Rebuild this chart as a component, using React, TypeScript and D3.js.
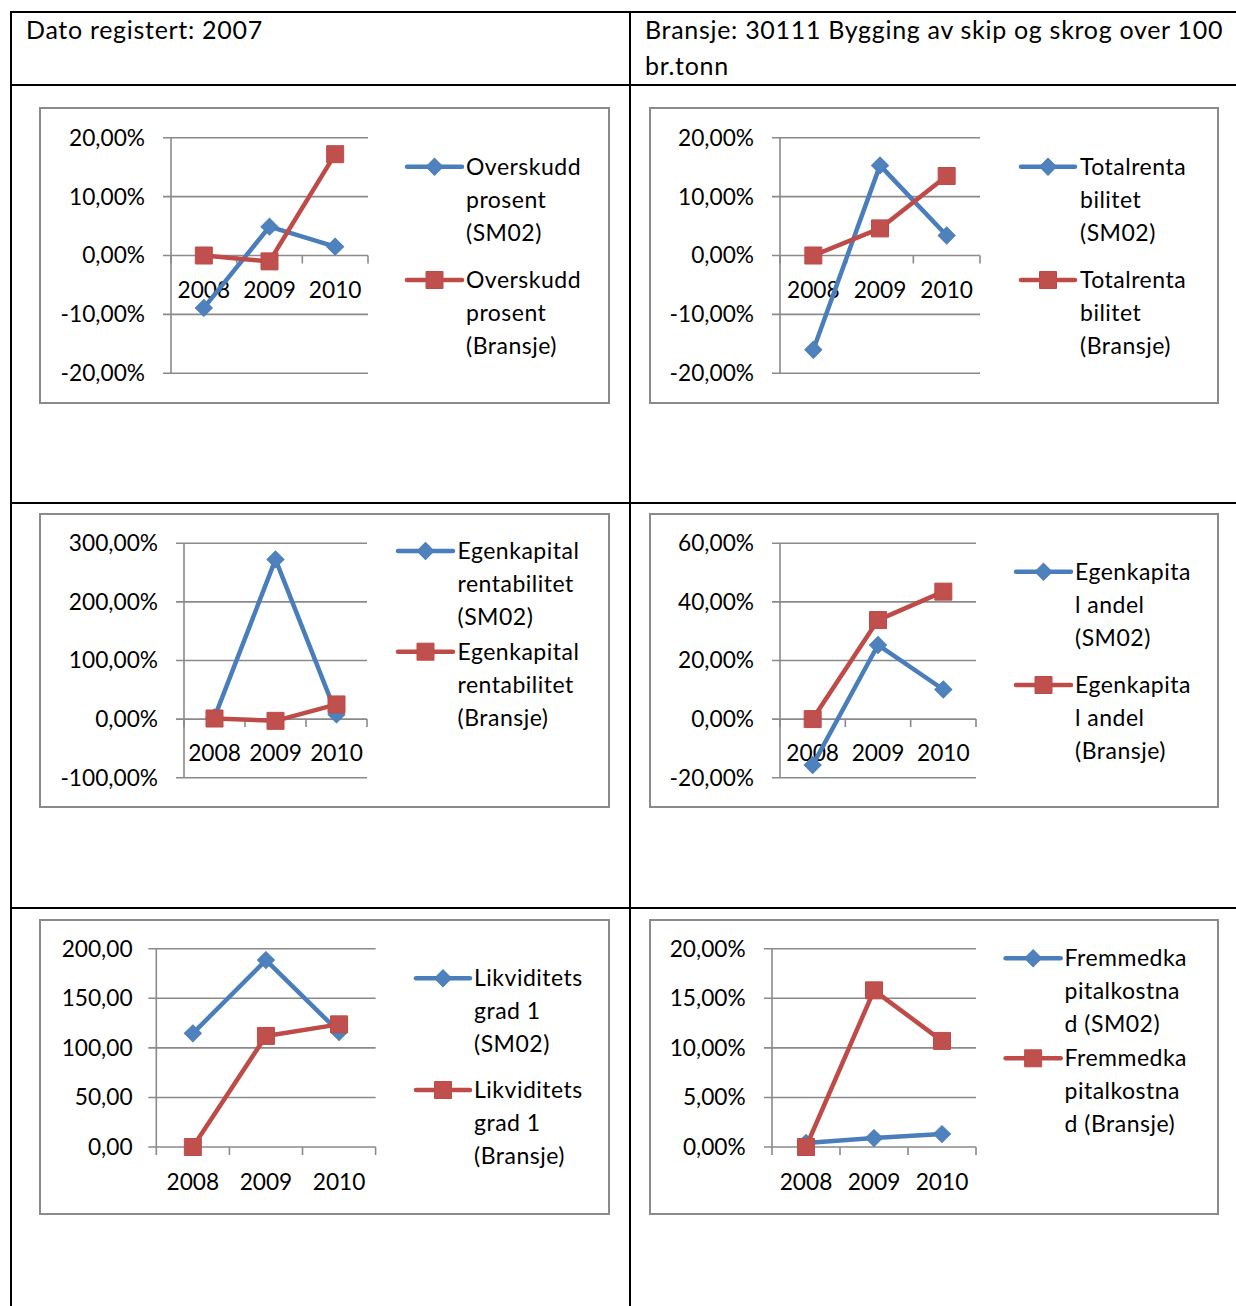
import * as d3 from 'd3';

// kategorier
const years = ['2008', '2009', '2010'];

// verdier lest av figuren
const overskuddSM02 = [-8.9, 4.9, 1.5];
const overskuddBransje = [0.0, -1.0, 17.2];
const totalrentSM02 = [-16.0, 15.3, 3.4];
const totalrentBransje = [0.0, 4.6, 13.5];
const ekRentSM02 = [3, 272.5, 8];
const ekRentBransje = [1, -3, 25];
const ekAndelSM02 = [-15.7, 25.3, 10.1];
const ekAndelBransje = [0.0, 33.8, 43.5];
const likviditetSM02 = [114.6, 188.5, 116];
const likviditetBransje = [0.0, 112, 123.7];
const fremmedSM02 = [0.4, 0.9, 1.3];
const fremmedBransje = [0.0, 15.8, 10.7];

// akseverdier
const ticksOverskudd = [-20, -10, 0, 10, 20];
const ticksTotalrent = [-20, -10, 0, 10, 20];
const ticksEkRent = [-100, 0, 100, 200, 300];
const ticksEkAndel = [-20, 0, 20, 40, 60];
const ticksLikviditet = [0, 50, 100, 150, 200];
const ticksFremmed = [0, 5, 10, 15, 20];

// legendetekst (brutt slik som i Excel)
const legOverskudd = [['Overskudd', 'prosent', '(SM02)'], ['Overskudd', 'prosent', '(Bransje)']];
const legTotalrent = [['Totalrenta', 'bilitet', '(SM02)'], ['Totalrenta', 'bilitet', '(Bransje)']];
const legEkRent = [['Egenkapital', 'rentabilitet', '(SM02)'], ['Egenkapital', 'rentabilitet', '(Bransje)']];
const legEkAndel = [['Egenkapita', 'l andel', '(SM02)'], ['Egenkapita', 'l andel', '(Bransje)']];
const legLikviditet = [['Likviditets', 'grad 1', '(SM02)'], ['Likviditets', 'grad 1', '(Bransje)']];
const legFremmed = [['Fremmedka', 'pitalkostna', 'd (SM02)'], ['Fremmedka', 'pitalkostna', 'd (Bransje)']];

const FONT = "Lato, 'Open Sans', sans-serif";
const BLUE = '#4a7ebb';
const RED = '#be4b48';
const GRID = '#8a8a8a';

const locale = d3.formatLocale({
  decimal: ',',
  thousands: '\u00a0',
  grouping: [3],
  currency: ['', ''],
  minus: '-',
});
const fmt2 = locale.format('.2f');

type Layout = {
  frame: [number, number, number, number];
  x0: number;
  x1: number;
  yTop: number;
  yBottom: number;
  labelRight: number;
  xLabelY: number;
  legX0: number;
  legX1: number;
  legText: number;
  legY: number[];
};

type ChartDef = {
  a: number[];
  b: number[];
  ticks: number[];
  suffix: string;
  legend: string[][];
  lay: Layout;
};

const charts: ChartDef[] = [
  {
    a: overskuddSM02, b: overskuddBransje, ticks: ticksOverskudd, suffix: '%', legend: legOverskudd,
    lay: { frame: [40, 108, 609, 403], x0: 171, x1: 368, yTop: 137.7, yBottom: 373.3, labelRight: 145,
      xLabelY: 290, legX0: 407, legX1: 462, legText: 466, legY: [166.7, 280] },
  },
  {
    a: totalrentSM02, b: totalrentBransje, ticks: ticksTotalrent, suffix: '%', legend: legTotalrent,
    lay: { frame: [650, 108, 1218, 403], x0: 780, x1: 980, yTop: 137.7, yBottom: 373.3, labelRight: 754,
      xLabelY: 290, legX0: 1021, legX1: 1075, legText: 1080, legY: [166.7, 280] },
  },
  {
    a: ekRentSM02, b: ekRentBransje, ticks: ticksEkRent, suffix: '%', legend: legEkRent,
    lay: { frame: [40, 514, 609, 807], x0: 184, x1: 367, yTop: 543.3, yBottom: 777.7, labelRight: 158,
      xLabelY: 753, legX0: 398, legX1: 453, legText: 457.5, legY: [551, 651.7] },
  },
  {
    a: ekAndelSM02, b: ekAndelBransje, ticks: ticksEkAndel, suffix: '%', legend: legEkAndel,
    lay: { frame: [650, 514, 1218, 807], x0: 780, x1: 976, yTop: 543.3, yBottom: 777.7, labelRight: 754,
      xLabelY: 753, legX0: 1016, legX1: 1071, legText: 1075, legY: [571.7, 685] },
  },
  {
    a: likviditetSM02, b: likviditetBransje, ticks: ticksLikviditet, suffix: '', legend: legLikviditet,
    lay: { frame: [40, 920, 609, 1214], x0: 156.3, x1: 375.6, yTop: 948.7, yBottom: 1147, labelRight: 132.6,
      xLabelY: 1181.7, legX0: 416, legX1: 470, legText: 474, legY: [978.3, 1090] },
  },
  {
    a: fremmedSM02, b: fremmedBransje, ticks: ticksFremmed, suffix: '%', legend: legFremmed,
    lay: { frame: [650, 920, 1218, 1214], x0: 772, x1: 976, yTop: 948.7, yBottom: 1147, labelRight: 745.7,
      xLabelY: 1181.7, legX0: 1005.6, legX1: 1060.7, legText: 1064.5, legY: [958.3, 1058.3] },
  },
];

const diamond = d3.symbol(d3.symbolSquare, 144)();
const square = d3.symbol(d3.symbolSquare, 289)();

function Marker({ x, y, kind }: { x: number; y: number; kind: 0 | 1 }) {
  if (kind === 0) {
    return <path d={diamond!} transform={`translate(${x},${y}) rotate(45)`} fill="#4f81bd" stroke={BLUE} strokeWidth={1} />;
  }
  return <path d={square!} transform={`translate(${x},${y})`} fill="#c0504d" stroke={RED} strokeWidth={1} />;
}

function LineChart({ def }: { def: ChartDef }) {
  const { lay, ticks } = def;
  const x = d3.scaleBand().domain(years).range([lay.x0, lay.x1]);
  const y = d3.scaleLinear()
    .domain([ticks[0], ticks[ticks.length - 1]])
    .range([lay.yBottom, lay.yTop]);
  const cx = (i: number) => x(years[i])! + x.bandwidth() / 2;
  const line = d3.line<number>().x((_, i) => cx(i)).y(d => y(d));
  const y0 = y(0);
  const bounds = [...years.map(yr => x(yr)!), lay.x1];
  const [fx0, fy0, fx1, fy1] = lay.frame;
  const series = [
    { vals: def.a, color: BLUE, kind: 0 as const },
    { vals: def.b, color: RED, kind: 1 as const },
  ];

  return (
    <g fontFamily={FONT} fontSize={22.7} fill="#000">
      <rect x={fx0} y={fy0} width={fx1 - fx0} height={fy1 - fy0} fill="#fff" stroke={GRID} strokeWidth={2} />
      {/* rutenett og y-akse */}
      {ticks.map(t => (
        <g key={t}>
          <line x1={lay.x0 - 8} x2={lay.x1} y1={y(t)} y2={y(t)} stroke={GRID} strokeWidth={1.6} />
          <text x={lay.labelRight} y={y(t)} dy="0.35em" textAnchor="end">
            {fmt2(t) + def.suffix}
          </text>
        </g>
      ))}
      <line x1={lay.x0} x2={lay.x0} y1={lay.yTop} y2={lay.yBottom} stroke={GRID} strokeWidth={1.6} />
      {bounds.map((bx, i) => (
        <line key={i} x1={bx} x2={bx} y1={y0} y2={y0 + 8} stroke={GRID} strokeWidth={1.6} />
      ))}
      {years.map((yr, i) => (
        <text key={yr} x={cx(i)} y={lay.xLabelY} dy="0.35em" textAnchor="middle">{yr}</text>
      ))}
      {/* serier */}
      {series.map((s, si) => (
        <g key={si}>
          <path d={line(s.vals)!} fill="none" stroke={s.color} strokeWidth={4.5} strokeLinejoin="round" />
          {s.vals.map((v, i) => <Marker key={i} x={cx(i)} y={y(v)} kind={s.kind} />)}
        </g>
      ))}
      {/* legende */}
      {series.map((s, si) => {
        const ly = lay.legY[si];
        return (
          <g key={'l' + si}>
            <line x1={lay.legX0} x2={lay.legX1} y1={ly} y2={ly} stroke={s.color} strokeWidth={4.5} strokeLinecap="round" />
            <Marker x={(lay.legX0 + lay.legX1) / 2} y={ly} kind={s.kind} />
            {def.legend[si].map((txt, k) => (
              <text key={k} x={lay.legText} y={ly + k * 33} dy="0.35em" fontSize={23} letterSpacing={0.5}>{txt}</text>
            ))}
          </g>
        );
      })}
    </g>
  );
}

export default function App() {
  const W = 1236;
  const H = 1306;
  return (
    <svg width={W} height={H} style={{ position: 'absolute', left: 0, top: 0, background: '#fff' }}>
      <rect width={W} height={H} fill="#fff" />
      {/* tabellramme */}
      <g stroke="#000" strokeWidth={2}>
        <line x1={10} x2={W} y1={12} y2={12} />
        <line x1={10} x2={W} y1={85} y2={85} />
        <line x1={10} x2={W} y1={503} y2={503} />
        <line x1={10} x2={W} y1={908} y2={908} />
        <line x1={11} x2={11} y1={11} y2={H} />
        <line x1={630} x2={630} y1={11} y2={H} />
      </g>
      <g fontFamily={FONT} fontSize={25} letterSpacing={0.7} fill="#000">
        <text x={26} y={39}>Dato registert: 2007</text>
        <text x={645} y={39}>Bransje: 30111 Bygging av skip og skrog over 100</text>
        <text x={645} y={75}>br.tonn</text>
      </g>
      {charts.map((c, i) => <LineChart key={i} def={c} />)}
    </svg>
  );
}
